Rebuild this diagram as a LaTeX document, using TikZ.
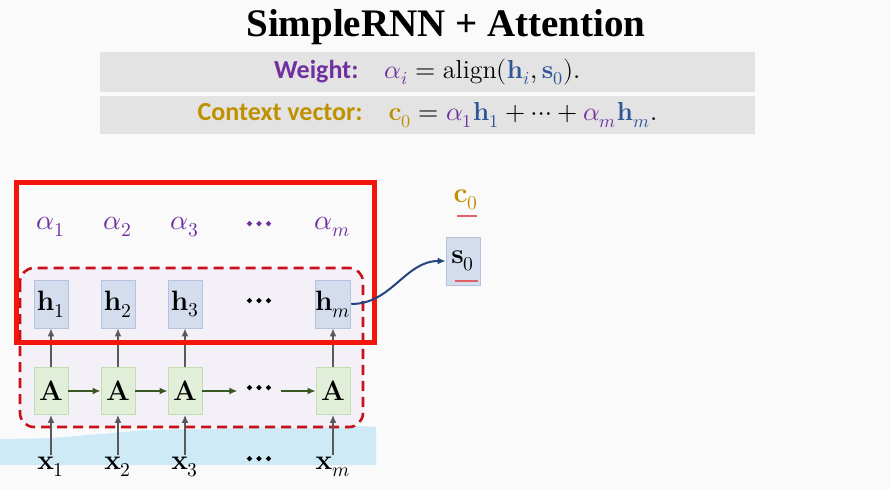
\documentclass[tikz,border=0pt]{standalone}
\usepackage{fontspec}
\usepackage{unicode-math}
\setmathfont{Latin Modern Math}
\setmathfont{Latin Modern Math}[version=bold, FakeBold=4]
\newfontfamily\labelfont{Carlito}
\newfontfamily\titlefont{Liberation Serif}
\usetikzlibrary{arrows.meta}
\definecolor{wpurple}{HTML}{7030A0}
\definecolor{cgold}{HTML}{BF9000}
\definecolor{hblue}{HTML}{2F5597}
\definecolor{boxgray}{HTML}{E3E3E3}
\definecolor{hfill}{HTML}{D4DDEE}
\definecolor{hline}{HTML}{B3C3DF}
\definecolor{afill}{HTML}{E1EED8}
\definecolor{aline}{HTML}{C4DCB3}
\definecolor{agreen}{HTML}{385723}
\definecolor{arrowgray}{HTML}{595959}
\definecolor{framered}{HTML}{F2160C}
\definecolor{dashred}{HTML}{C81018}
\definecolor{lavender}{HTML}{F4F0F8}
\definecolor{waterblue}{HTML}{CDEAF6}
\definecolor{curveblue}{HTML}{24447F}
\definecolor{markred}{HTML}{E0606A}
\definecolor{bgc}{HTML}{FAFAFA}

\begin{document}
\begin{tikzpicture}[x=0.5pt, y=-0.5pt,
  hbox/.style={draw=hline, fill=hfill, minimum width=17pt, minimum height=24pt, inner sep=0pt, font=\fontsize{14}{16}\selectfont},
  abox/.style={draw=aline, fill=afill, minimum width=17pt, minimum height=23.5pt, inner sep=0pt, font=\fontsize{14}{16}\selectfont},
  lbl/.style={inner sep=1pt, font=\fontsize{14}{16}\selectfont},
  dotlbl/.style={inner sep=4pt, font=\fontsize{17}{18}\selectfont\boldmath},
  uparrow/.style={arrowgray, line width=1pt, -{Latex[length=4pt, width=3.5pt]}},
  rarrow/.style={agreen, line width=1pt, -{Latex[length=4pt, width=3.5pt]}},
  bar/.style={fill=boxgray, minimum width=327.5pt, inner sep=0pt, font=\fontsize{13}{15}\selectfont}]
  \fill[bgc] (0,0) rectangle (891,489);
  \useasboundingbox (0,0) rectangle (891,489);
  % title and the two formula bars
  \node (title) at (446,27) {\titlefont\fontsize{19.5}{22}\selectfont\bfseries SimpleRNN + Attention};
  \node[bar, minimum height=20pt] (wbar) at (427.5,72)
    {{\labelfont\bfseries\color{wpurple}Weight:}\quad $\textcolor{wpurple}{\alpha_i} = \mathrm{align}(\textcolor{hblue}{\mathbf{h}_i}, \textcolor{hblue}{\mathbf{s}_0}).$};
  \node[bar, minimum height=19pt] (cbar) at (427.5,115)
    {{\labelfont\bfseries\color{cgold}Context vector:}\quad $\textcolor{cgold}{\mathbf{c}_0} = \textcolor{wpurple}{\alpha_1}\textcolor{hblue}{\mathbf{h}_1} + \cdots + \textcolor{wpurple}{\alpha_m}\textcolor{hblue}{\mathbf{h}_m}.$};
  % water band behind the inputs
  \fill[waterblue] (0,465) -- plot[smooth] coordinates {(0,439) (50,438) (100,434) (150,430) (210,429) (260,427) (310,428) (350,426) (376,427)} -- (376,465) -- cycle;
  % encoder
  \draw[dashred, line width=1.3pt, dash pattern=on 5pt off 3pt, fill=lavender, rounded corners=7pt] (20,268) rectangle (363,427);
  \foreach \i/\x in {1/51, 2/118, 3/185, m/333} {
    \node[hbox] (h\i) at (\x,304) {$\mathbf{h}_\i$};
    \node[abox] (a\i) at (\x,391) {$\mathbf{A}$};
    \node[lbl] (x\i) at (\x,467) {$\mathbf{x}_\i$};
    \node[lbl, text=wpurple] (al\i) at (\x,227) {$\alpha_\i$};
    \draw[uparrow] (a\i) -- (h\i);
    \draw[uparrow] (x\i) -- (a\i);
  }
  \node[dotlbl] (hdot) at (259,304) {$\cdots$};
  \node[dotlbl] (adot) at (259,391) {$\cdots$};
  \node[dotlbl] (xdot) at (259,462) {$\cdots$};
  \node[dotlbl, text=wpurple] (aldot) at (259,227) {$\cdots$};
  \draw[rarrow] (a1) -- (a2);
  \draw[rarrow] (a2) -- (a3);
  \draw[rarrow] (a3) -- (adot);
  \draw[rarrow] (adot) -- (am);
  \draw[framered, line width=2.5pt] (16.5,182.5) rectangle (374.5,342.5);
  % decoder side
  \node[hbox] (s0) at (463,261) {$\mathbf{s}_0$};
  \node[lbl, text=cgold] (c0) at (466,200) {$\mathbf{c}_0$};
  \draw[markred, line width=0.9pt] (457,216) -- (477,216);
  \draw[markred, line width=0.9pt] (455,281) -- (478,281);
  \draw[curveblue, line width=1pt, -{Latex[length=4pt, width=3.5pt]}] (hm.east) to[out=0, in=180] (s0.west);
\end{tikzpicture}
\end{document}
